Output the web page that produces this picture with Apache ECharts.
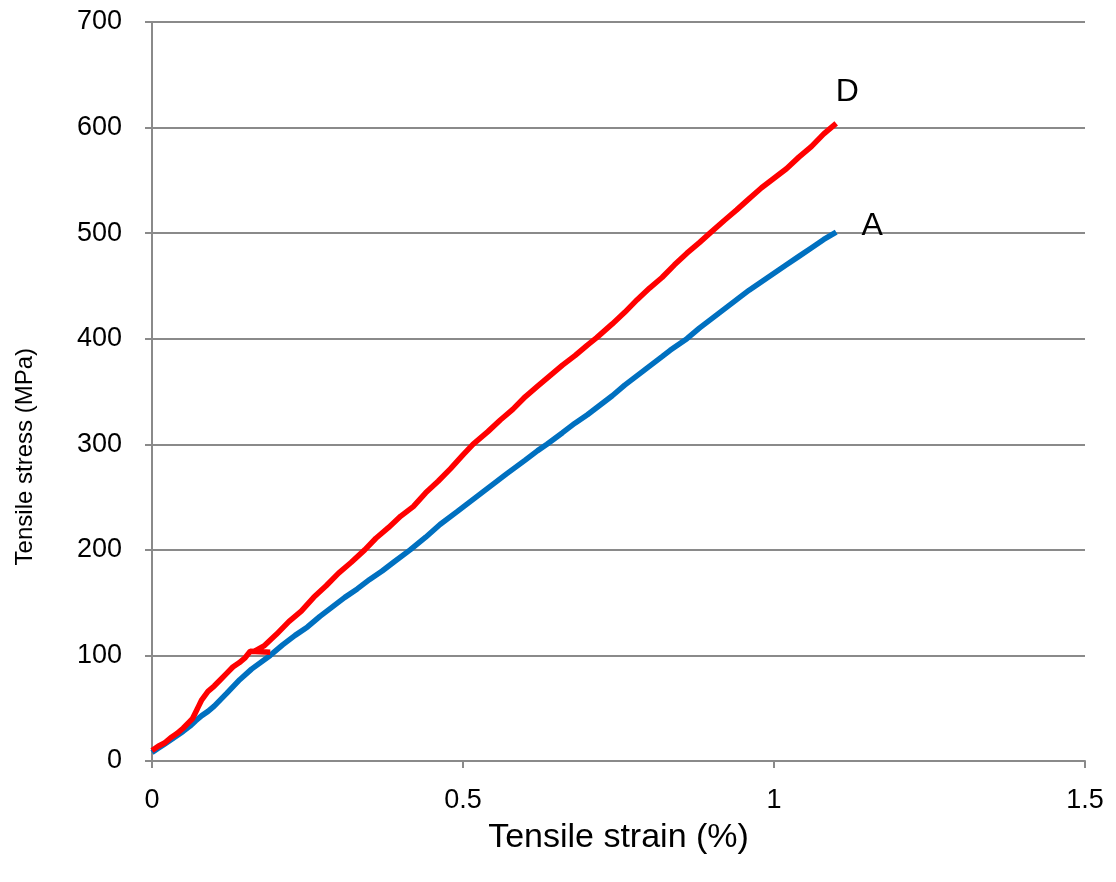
<!DOCTYPE html>
<html>
<head>
<meta charset="utf-8">
<script src="https://cdn.jsdelivr.net/npm/echarts@6/dist/echarts.min.js"></script>
<style>
  html, body { margin: 0; padding: 0; background: #fff; }
  #chart { width: 1116px; height: 882px; }
</style>
</head>
<body>
<div id="chart"></div>
<script>
// Tensile stress–strain curves for specimens A and D
const strainA = [0, 0.01, 0.02, 0.03, 0.04, 0.05, 0.061, 0.07, 0.08, 0.09, 0.10, 0.12, 0.141, 0.16, 0.19,
  0.21, 0.23, 0.25, 0.27, 0.29, 0.31, 0.33, 0.35, 0.37, 0.39, 0.415, 0.44, 0.463, 0.49, 0.51, 0.53, 0.55,
  0.57, 0.60, 0.62, 0.635, 0.66, 0.68, 0.70, 0.72, 0.74, 0.76, 0.78, 0.80, 0.82, 0.833, 0.86, 0.88, 0.90,
  0.92, 0.94, 0.96, 0.98, 1.00, 1.02, 1.04, 1.06, 1.08, 1.10];
const stressA = [8, 12, 16, 20, 24, 28, 33, 38, 43, 47, 52, 64, 77, 87, 100,
  110, 119, 127, 137, 146, 155, 163, 172, 180, 189, 200, 212, 224, 236, 245, 254, 263,
  272, 285, 294, 300, 311, 320, 328, 337, 346, 356, 365, 374, 383, 389, 400, 410, 419,
  428, 437, 446, 454, 462, 470, 478, 486, 494, 501];

const strainD = [0, 0.01, 0.02, 0.03, 0.04, 0.05, 0.06, 0.065, 0.07, 0.075, 0.08, 0.085, 0.09, 0.10, 0.11,
  0.12, 0.13, 0.14, 0.15, 0.158, 0.19, 0.165, 0.18, 0.20, 0.22, 0.24, 0.26, 0.28, 0.30, 0.32, 0.342, 0.36,
  0.38, 0.40, 0.42, 0.44, 0.46, 0.48, 0.50, 0.516, 0.54, 0.56, 0.58, 0.60, 0.62, 0.64, 0.66, 0.68, 0.70,
  0.715, 0.74, 0.76, 0.78, 0.80, 0.82, 0.84, 0.86, 0.88, 0.897, 0.92, 0.94, 0.957, 0.98, 1.00, 1.02, 1.04,
  1.06, 1.08, 1.10];
const stressD = [10, 14, 17, 22, 26, 31, 37, 40, 46, 52, 58, 62, 66, 71, 77,
  83, 89, 93, 98, 104, 103, 104, 109, 120, 132, 142, 155, 166, 178, 188, 200, 211,
  221, 232, 241, 254, 265, 277, 290, 300, 312, 323, 333, 345, 355, 365, 375, 384, 394,
  401, 414, 425, 437, 448, 458, 470, 481, 491, 500, 512, 522, 531, 543, 552, 561, 572,
  582, 594, 604];

const xTicks = [0, 0.5, 1, 1.5];
const yTicks = [0, 100, 200, 300, 400, 500, 600, 700];

const xTitle = 'Tensile strain (%)';
const yTitle = 'Tensile stress (MPa)';

const pair = (xs, ys) => xs.map((x, i) => [x, ys[i]]);
const last = (xs, ys) => [xs[xs.length - 1], ys[ys.length - 1]];

const axisGray = '#8a8a8a';
const font = '"Liberation Sans", Arial, sans-serif';

const chart = echarts.init(document.getElementById('chart'), null, { renderer: 'canvas' });

chart.setOption({
  animation: false,
  backgroundColor: '#ffffff',
  grid: { left: 152, right: 31, top: 22, bottom: 121, containLabel: false },
  xAxis: {
    type: 'value',
    min: xTicks[0],
    max: xTicks[xTicks.length - 1],
    interval: xTicks[1] - xTicks[0],
    name: xTitle,
    nameLocation: 'middle',
    nameGap: 60,
    nameTextStyle: { fontFamily: font, fontSize: 34, color: '#000' },
    axisLine: { show: true, lineStyle: { color: axisGray, width: 2 } },
    axisTick: { show: true, length: 7, lineStyle: { color: axisGray, width: 2 } },
    axisLabel: { fontFamily: font, fontSize: 27, color: '#000', margin: 26 },
    splitLine: { show: false }
  },
  yAxis: {
    type: 'value',
    min: yTicks[0],
    max: yTicks[yTicks.length - 1],
    interval: yTicks[1] - yTicks[0],
    axisLine: { show: true, lineStyle: { color: axisGray, width: 2 } },
    axisTick: { show: true, length: 7, lineStyle: { color: axisGray, width: 2 } },
    axisLabel: { fontFamily: font, fontSize: 27, color: '#000', margin: 30 },
    splitLine: { show: true, lineStyle: { color: axisGray, width: 2 } }
  },
  graphic: [{
    type: 'text',
    left: 13,
    top: 348,
    style: {
      text: yTitle,
      font: '24px "Liberation Sans", Arial, sans-serif',
      fill: '#000'
    },
    rotation: Math.PI / 2,
    originX: 0,
    originY: 0
  }],
  series: [
    {
      name: 'A',
      type: 'line',
      data: pair(strainA, stressA),
      showSymbol: false,
      lineStyle: { color: '#0070C0', width: 5.5 },
      itemStyle: { color: '#0070C0' },
      z: 3,
      markPoint: {
        symbol: 'circle',
        symbolSize: 0,
        label: { show: true, formatter: 'A', fontFamily: font, fontSize: 32, color: '#000', offset: [36, -6] },
        data: [{ coord: last(strainA, stressA) }]
      }
    },
    {
      name: 'D',
      type: 'line',
      data: pair(strainD, stressD),
      showSymbol: false,
      lineStyle: { color: '#FF0000', width: 5.5 },
      itemStyle: { color: '#FF0000' },
      z: 4,
      markPoint: {
        symbol: 'circle',
        symbolSize: 0,
        label: { show: true, formatter: 'D', fontFamily: font, fontSize: 32, color: '#000', offset: [11, -31] },
        data: [{ coord: last(strainD, stressD) }]
      }
    }
  ]
});
</script>
</body>
</html>
